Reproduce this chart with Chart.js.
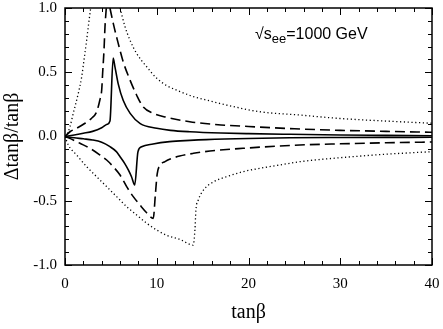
<!DOCTYPE html>
<html>
<head>
<meta charset="utf-8">
<script src="https://cdn.jsdelivr.net/npm/chart.js@4.4.1/dist/chart.umd.min.js"></script>
<style>
  html, body { margin: 0; padding: 0; background: #fff; }
  #wrap { width: 443px; height: 329px; position: relative; }
</style>
</head>
<body>
<div id="wrap"><canvas id="myChart"></canvas></div>
<script>
// Axis ticks
const xTicks = [0, 10, 20, 30, 40];
const yTicks = [-1.0, -0.5, 0.0, 0.5, 1.0];

// Solid curves
const solidUpX = [0, 1, 2, 3, 4, 4.6, 4.9, 5.25, 5.45, 5.8, 6.35, 7.1, 8.2, 10, 11.5, 13.6, 17, 20, 24.5, 30, 35, 40];
const solidUpY = [0, 0.012, 0.025, 0.04, 0.068, 0.095, 0.12, 0.61, 0.54, 0.41, 0.28, 0.18, 0.1, 0.064, 0.048, 0.037, 0.027, 0.022, 0.017, 0.012, 0.009, 0.006];
const solidLoX = [0, 1, 2, 3, 4, 4.9, 5.6, 6, 6.5, 6.9, 7.25, 7.6, 7.95, 8.35, 9.6, 11.4, 13.6, 15.4, 20, 24.5, 30, 35, 40];
const solidLoY = [0, -0.01, -0.018, -0.027, -0.045, -0.079, -0.118, -0.157, -0.209, -0.26, -0.313, -0.377, -0.12, -0.08, -0.058, -0.04, -0.03, -0.024, -0.015, -0.01, -0.008, -0.007, -0.006];

// Dashed curves
const dashUpX = [0, 0.54, 1.27, 2.18, 2.9, 3.45, 3.8, 4.0, 4.1, 4.25, 4.36, 4.5, 4.7, 4.9, 5.26, 5.8, 6.35, 7.08, 7.8, 8.5, 9.6, 11.1, 13.6, 17, 20, 25, 30, 35, 40];
const dashUpY = [0, 0.037, 0.064, 0.103, 0.142, 0.193, 0.284, 0.362, 0.49, 0.67, 0.855, 1.0, null, 1.0, 0.88, 0.725, 0.58, 0.44, 0.323, 0.232, 0.18, 0.149, 0.115, 0.09, 0.078, 0.06, 0.048, 0.04, 0.033];
const dashLoX = [0, 0.9, 1.63, 2.72, 3.81, 4.54, 5.26, 6.0, 6.72, 7.44, 8.17, 8.9, 9.62, 9.85, 10.05, 10.35, 10.9, 11.4, 12.5, 14, 15.8, 19.4, 25, 30, 35, 40];
const dashLoY = [0, -0.027, -0.053, -0.092, -0.144, -0.183, -0.235, -0.3, -0.39, -0.468, -0.533, -0.593, -0.637, -0.45, -0.29, -0.225, -0.196, -0.177, -0.152, -0.131, -0.113, -0.092, -0.068, -0.057, -0.049, -0.043];

// Dotted curves
const dotUpX = [0, 0.18, 0.54, 0.9, 1.45, 1.82, 2.07, 2.36, 2.58, 2.8, 4.4, 6.0, 6.54, 7.08, 7.8, 8.9, 10.0, 11.1, 12.2, 14, 15.4, 17.6, 21.2, 25.6, 30, 35, 40];
const dotUpY = [0, 0.012, 0.076, 0.18, 0.336, 0.465, 0.595, 0.75, 0.88, 1.0, null, 1.0, 0.855, 0.75, 0.647, 0.543, 0.453, 0.395, 0.36, 0.31, 0.284, 0.245, 0.193, 0.167, 0.14, 0.12, 0.103];
const dotLoX = [0, 0.36, 1.27, 2.36, 3.45, 4.54, 5.63, 6.72, 7.81, 8.9, 10.0, 11.1, 12.5, 13.97, 14.16, 14.27, 14.53, 15.1, 16.2, 17.6, 19.4, 21.2, 23.4, 25.6, 30, 35, 40];
const dotLoY = [0, -0.066, -0.144, -0.235, -0.313, -0.39, -0.468, -0.546, -0.611, -0.675, -0.728, -0.77, -0.8, -0.845, -0.728, -0.572, -0.494, -0.416, -0.352, -0.313, -0.274, -0.248, -0.222, -0.196, -0.165, -0.138, -0.118];

const serif = "'Liberation Serif', 'Times New Roman', serif";
const sans = "'Liberation Sans', Arial, sans-serif";

function toPoints(xs, ys) {
  return xs.map((x, i) => ({ x: x, y: ys[i] }));
}

function makeLine(xs, ys, dash, width) {
  return {
    data: toPoints(xs, ys),
    borderColor: '#000',
    borderWidth: width,
    borderDash: dash,
    pointRadius: 0,
    fill: false,
    spanGaps: false,
    cubicInterpolationMode: 'monotone'
  };
}

// Frame, inward ticks on all four sides, and the energy label
const framePlugin = {
  id: 'frame',
  afterDraw(chart) {
    const ctx = chart.ctx;
    const a = chart.chartArea;
    const xs = chart.scales.x;
    const ys = chart.scales.y;
    ctx.save();
    ctx.strokeStyle = '#000';
    ctx.lineWidth = 1.5;
    ctx.strokeRect(a.left, a.top, a.right - a.left, a.bottom - a.top);

    ctx.lineWidth = 1;
    ctx.beginPath();
    for (let v = 0; v <= 40; v += 2) {
      const px = Math.round(xs.getPixelForValue(v)) + 0.5;
      const len = v % 10 === 0 ? 7 : 4;
      ctx.moveTo(px, a.bottom); ctx.lineTo(px, a.bottom - len);
      ctx.moveTo(px, a.top); ctx.lineTo(px, a.top + len);
    }
    for (let k = -10; k <= 10; k++) {
      const py = Math.round(ys.getPixelForValue(k / 10)) + 0.5;
      const len = k % 5 === 0 ? 7 : 4;
      ctx.moveTo(a.left, py); ctx.lineTo(a.left + len, py);
      ctx.moveTo(a.right, py); ctx.lineTo(a.right - len, py);
    }
    ctx.stroke();

    // √s_ee = 1000 GeV
    ctx.fillStyle = '#000';
    ctx.textBaseline = 'alphabetic';
    let tx = 255;
    const base = 39;
    ctx.font = '16px ' + sans;
    ctx.fillText('√s', tx, base);
    tx += ctx.measureText('√s').width;
    ctx.font = '13px ' + sans;
    ctx.fillText('ee', tx, base + 4);
    tx += ctx.measureText('ee').width;
    ctx.font = '16px ' + sans;
    ctx.fillText('=1000 GeV', tx, base);
    ctx.restore();
  }
};

const ctx = document.getElementById('myChart').getContext('2d');
const myChart = new Chart(ctx, {
  type: 'line',
  data: {
    datasets: [
      makeLine(dotUpX, dotUpY, [1.2, 2.6], 1.3),
      makeLine(dotLoX, dotLoY, [1.2, 2.6], 1.3),
      makeLine(dashUpX, dashUpY, [10, 5], 1.6),
      makeLine(dashLoX, dashLoY, [10, 5], 1.6),
      makeLine(solidUpX, solidUpY, [], 1.6),
      makeLine(solidLoX, solidLoY, [], 1.6)
    ]
  },
  options: {
    responsive: true,
    maintainAspectRatio: false,
    animation: false,
    layout: { padding: { top: 8, right: 11, left: 0, bottom: 0 } },
    plugins: {
      legend: { display: false },
      tooltip: { enabled: false }
    },
    scales: {
      x: {
        type: 'linear',
        min: 0,
        max: 40,
        afterFit(scale) {
          scale.height = 64;
          scale.paddingLeft = 0;
          scale.paddingRight = 0;
        },
        afterBuildTicks(scale) { scale.ticks = xTicks.map(v => ({ value: v })); },
        grid: { display: false, drawTicks: false },
        border: { display: false },
        ticks: {
          padding: 10,
          color: '#000',
          maxRotation: 0,
          font: { family: serif, size: 15 },
          callback: v => String(v)
        },
        title: {
          display: true,
          text: 'tanβ',
          color: '#000',
          padding: { top: 0, bottom: 4 },
          font: { family: serif, size: 20 }
        }
      },
      y: {
        type: 'linear',
        min: -1,
        max: 1,
        afterFit(scale) {
          scale.width = 65;
          scale.paddingTop = 0;
          scale.paddingBottom = 0;
        },
        afterBuildTicks(scale) { scale.ticks = yTicks.map(v => ({ value: v })); },
        grid: { display: false, drawTicks: false },
        border: { display: false },
        ticks: {
          padding: 8,
          color: '#000',
          font: { family: serif, size: 15 },
          callback: v => v.toFixed(1)
        },
        title: {
          display: true,
          text: 'Δtanβ/tanβ',
          color: '#000',
          padding: { top: 1, bottom: 0 },
          font: { family: serif, size: 20 }
        }
      }
    }
  },
  plugins: [framePlugin]
});
</script>
</body>
</html>
